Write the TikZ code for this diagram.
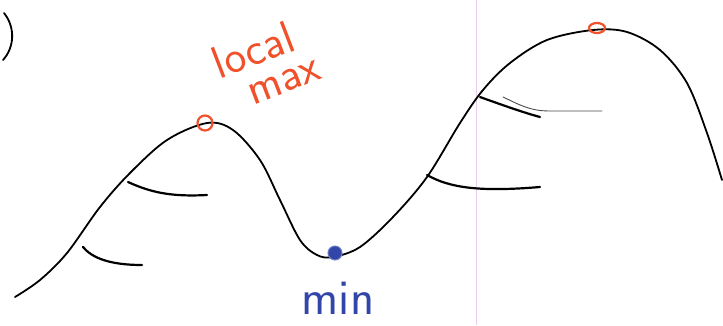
\documentclass[tikz,border=0pt]{standalone}
\usepackage{xcolor}
\usepackage{tikz}
\definecolor{MarkerRed}{HTML}{F0502A}
\definecolor{PenBlue}{HTML}{3246AA}
\definecolor{MarginPink}{HTML}{E8CCF0}

\begin{document}
\begin{tikzpicture}[x=1pt,y=-1pt,
  ridge/.style={draw=black,line width=1.8pt,line cap=round},
  hatch/.style={draw=black,line width=2.2pt,line cap=round},
  faint/.style={draw=black!70,line width=0.9pt,line cap=round},
  maxdot/.style={draw=MarkerRed,line width=2.2pt},
  mindot/.style={fill=PenBlue,draw=PenBlue!70,line width=1pt},
  label/.style={font=\sffamily\fontsize{46}{36}\selectfont,inner sep=0pt,align=left}
]
\useasboundingbox (0,0) rectangle (723,325);
\fill[white] (0,0) rectangle (723,325);
% margin line of the paper
\draw[MarginPink,line width=0.8pt] (476,0) -- (476,325);
% scrap at top left
\draw[ridge] (4,13) .. controls (16,28) and (14,48) .. (3,60);

% the landscape
\draw[ridge] plot[smooth,tension=0.55] coordinates {
  (15,297) (40,280) (67,253) (100,207) (130,173) (167,140) (207,123)
  (233,130) (260,160) (280,200) (300,240) (317,255) (333,257) (360,247)
  (393,217) (427,177) (460,123) (483,90) (510,63) (547,40) (593,30)
  (627,32) (660,50) (687,83) (707,133) (722,180)};

% shading strokes
\draw[hatch] (128,182) .. controls (150,192) and (170,197) .. (207,195);
\draw[hatch] (83,247) .. controls (92,258) and (110,265) .. (142,265);
\draw[hatch] (427,175) .. controls (450,188) and (480,192) .. (540,187);
\draw[hatch] (480,97) .. controls (505,106) and (525,113) .. (540,117);
\draw[faint] (503,97) .. controls (520,105) and (530,111) .. (550,111) -- (602,111);

% extrema
\draw[maxdot] (205,123) circle (7.5);
\draw[maxdot] (597,28) ellipse (8 and 5);
\draw[mindot] (335,253) circle (7);

% labels
\node[label,text=MarkerRed,rotate=21] (maxtxt) at (266,64) {local\\\hspace*{22pt}max};
\node[label,text=PenBlue,font=\sffamily\fontsize{50}{50}\selectfont] (mintxt) at (338,298) {min};
\end{tikzpicture}
\end{document}
